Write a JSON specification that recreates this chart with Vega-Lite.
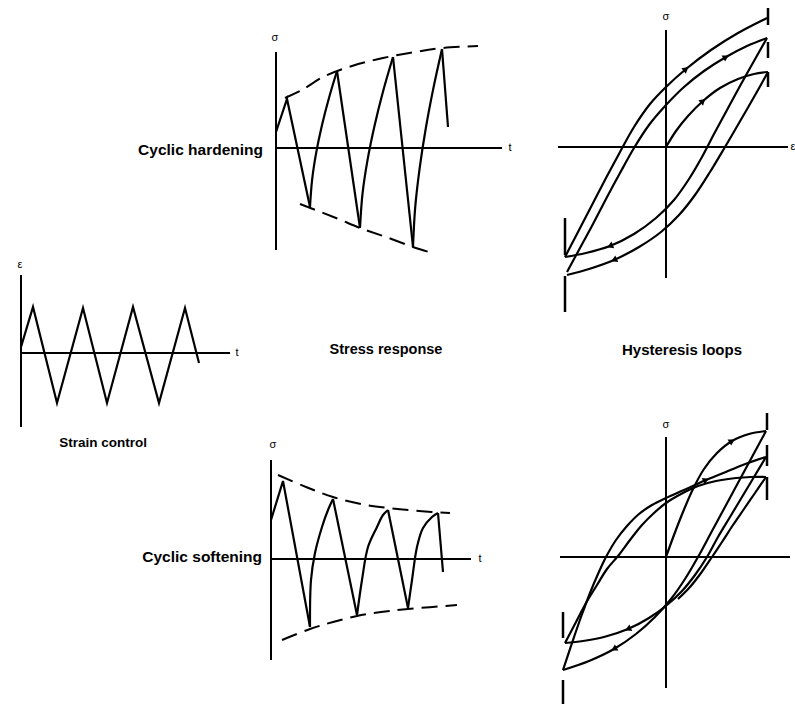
{
  "$schema": "https://vega.github.io/schema/vega-lite/v6.json",
  "padding": 0,
  "autosize": {"type": "pad"},
  "background": "white",
  "bounds": "flush",
  "columns": 3,
  "spacing": {"row": 40, "column": 5},
  "config": {
    "view": {"stroke": null},
    "text": {"font": "Liberation Sans", "fontSize": 14, "color": "black", "baseline": "middle"},
    "line": {"color": "black", "strokeWidth": 2.2},
    "rule": {"color": "black", "strokeWidth": 2},
    "point": {"color": "black", "filled": true, "opacity": 1}
  },
  "datasets": {
    "axes": [
      {"panel": "strain", "x": 0, "y": -74, "x2": 0, "y2": 78},
      {"panel": "strain", "x": 0, "y": 0, "x2": 209, "y2": 0},
      {"panel": "hardening", "x": 0, "y": -102, "x2": 0, "y2": 96},
      {"panel": "hardening", "x": 0, "y": 0, "x2": 226, "y2": 0},
      {"panel": "softening", "x": 0, "y": -101, "x2": 0, "y2": 99},
      {"panel": "softening", "x": 0, "y": 0, "x2": 200, "y2": 0},
      {"panel": "loopsHard", "x": 0, "y": -131, "x2": 0, "y2": 117},
      {"panel": "loopsHard", "x": -108, "y": 0, "x2": 122, "y2": 0},
      {"panel": "loopsSoft", "x": 0, "y": -131, "x2": 0, "y2": 120},
      {"panel": "loopsSoft", "x": -106, "y": 0, "x2": 124, "y2": 0}
    ],
    "limits": [
      {"panel": "loopsHard", "x": 102, "y": 139, "x2": 102, "y2": 122},
      {"panel": "loopsHard", "x": 102, "y": 105, "x2": 102, "y2": 89},
      {"panel": "loopsHard", "x": 102, "y": 75, "x2": 102, "y2": 60},
      {"panel": "loopsHard", "x": -101, "y": -71, "x2": -101, "y2": -108},
      {"panel": "loopsHard", "x": -101, "y": -129, "x2": -101, "y2": -165},
      {"panel": "loopsSoft", "x": 101, "y": 144, "x2": 101, "y2": 127},
      {"panel": "loopsSoft", "x": 101, "y": 112, "x2": 101, "y2": 91},
      {"panel": "loopsSoft", "x": 101, "y": 80, "x2": 101, "y2": 57},
      {"panel": "loopsSoft", "x": -103, "y": -55, "x2": -103, "y2": -81},
      {"panel": "loopsSoft", "x": -103, "y": -123, "x2": -103, "y2": -147}
    ],
    "arrows": [
      {"panel": "loopsHard", "x": 37, "y": 46, "heading": 49},
      {"panel": "loopsHard", "x": 20, "y": 78, "heading": 51},
      {"panel": "loopsHard", "x": 60, "y": 90, "heading": 60},
      {"panel": "loopsHard", "x": -56, "y": -99, "heading": 248},
      {"panel": "loopsHard", "x": -52, "y": -113, "heading": 246},
      {"panel": "loopsSoft", "x": 66, "y": 116, "heading": 59},
      {"panel": "loopsSoft", "x": 40, "y": 77, "heading": 67},
      {"panel": "loopsSoft", "x": -38, "y": -72, "heading": 247},
      {"panel": "loopsSoft", "x": -52, "y": -92, "heading": 240}
    ],
    "curves": [
      {"panel": "strain", "path": "straight", "c": 1, "i": 0, "x": 0, "y": 6},
      {"panel": "strain", "path": "straight", "c": 1, "i": 1, "x": 12, "y": 46},
      {"panel": "strain", "path": "straight", "c": 1, "i": 2, "x": 36, "y": -50},
      {"panel": "strain", "path": "straight", "c": 1, "i": 3, "x": 62, "y": 45},
      {"panel": "strain", "path": "straight", "c": 1, "i": 4, "x": 86, "y": -50},
      {"panel": "strain", "path": "straight", "c": 1, "i": 5, "x": 112, "y": 46},
      {"panel": "strain", "path": "straight", "c": 1, "i": 6, "x": 138, "y": -50},
      {"panel": "strain", "path": "straight", "c": 1, "i": 7, "x": 164, "y": 45},
      {"panel": "strain", "path": "straight", "c": 1, "i": 8, "x": 178, "y": -10},

      {"panel": "hardening", "path": "straight", "c": 1, "i": 0, "x": 0, "y": 16},
      {"panel": "hardening", "path": "straight", "c": 1, "i": 1, "x": 11, "y": 49},
      {"panel": "hardening", "path": "straight", "c": 1, "i": 2, "x": 34, "y": -59},
      {"panel": "hardening", "path": "straight", "c": 2, "i": 0, "x": 61, "y": 77},
      {"panel": "hardening", "path": "straight", "c": 2, "i": 1, "x": 84, "y": -80},
      {"panel": "hardening", "path": "straight", "c": 3, "i": 0, "x": 117, "y": 91},
      {"panel": "hardening", "path": "straight", "c": 3, "i": 1, "x": 137, "y": -99},
      {"panel": "hardening", "path": "straight", "c": 4, "i": 0, "x": 166, "y": 99},
      {"panel": "hardening", "path": "straight", "c": 4, "i": 1, "x": 172, "y": 21},
      {"panel": "hardening", "path": "smooth", "c": 5, "i": 0, "x": 34, "y": -59},
      {"panel": "hardening", "path": "smooth", "c": 5, "i": 1, "x": 36.1, "y": -31.8},
      {"panel": "hardening", "path": "smooth", "c": 5, "i": 2, "x": 40.2, "y": -4.6},
      {"panel": "hardening", "path": "smooth", "c": 5, "i": 3, "x": 45.9, "y": 22.6},
      {"panel": "hardening", "path": "smooth", "c": 5, "i": 4, "x": 52.9, "y": 49.8},
      {"panel": "hardening", "path": "smooth", "c": 5, "i": 5, "x": 61, "y": 77},
      {"panel": "hardening", "path": "smooth", "c": 6, "i": 0, "x": 84, "y": -80},
      {"panel": "hardening", "path": "smooth", "c": 6, "i": 1, "x": 86.5, "y": -45.8},
      {"panel": "hardening", "path": "smooth", "c": 6, "i": 2, "x": 91.6, "y": -11.6},
      {"panel": "hardening", "path": "smooth", "c": 6, "i": 3, "x": 98.6, "y": 22.6},
      {"panel": "hardening", "path": "smooth", "c": 6, "i": 4, "x": 107.1, "y": 56.8},
      {"panel": "hardening", "path": "smooth", "c": 6, "i": 5, "x": 117, "y": 91},
      {"panel": "hardening", "path": "smooth", "c": 7, "i": 0, "x": 137, "y": -99},
      {"panel": "hardening", "path": "smooth", "c": 7, "i": 1, "x": 139.2, "y": -59.4},
      {"panel": "hardening", "path": "smooth", "c": 7, "i": 2, "x": 143.7, "y": -19.8},
      {"panel": "hardening", "path": "smooth", "c": 7, "i": 3, "x": 149.8, "y": 19.8},
      {"panel": "hardening", "path": "smooth", "c": 7, "i": 4, "x": 157.3, "y": 59.4},
      {"panel": "hardening", "path": "smooth", "c": 7, "i": 5, "x": 166, "y": 99},

      {"panel": "softening", "path": "straight", "c": 1, "i": 0, "x": 0, "y": 39},
      {"panel": "softening", "path": "straight", "c": 1, "i": 1, "x": 12, "y": 78},
      {"panel": "softening", "path": "straight", "c": 1, "i": 2, "x": 39, "y": -68},
      {"panel": "softening", "path": "straight", "c": 2, "i": 0, "x": 62, "y": 60},
      {"panel": "softening", "path": "straight", "c": 2, "i": 1, "x": 86, "y": -56},
      {"panel": "softening", "path": "straight", "c": 3, "i": 0, "x": 117, "y": 49},
      {"panel": "softening", "path": "straight", "c": 3, "i": 1, "x": 137, "y": -49},
      {"panel": "softening", "path": "straight", "c": 4, "i": 0, "x": 167, "y": 46},
      {"panel": "softening", "path": "straight", "c": 4, "i": 1, "x": 172, "y": -13},
      {"panel": "softening", "path": "smooth", "c": 5, "i": 0, "x": 39, "y": -68},
      {"panel": "softening", "path": "smooth", "c": 5, "i": 1, "x": 40, "y": -21},
      {"panel": "softening", "path": "smooth", "c": 5, "i": 2, "x": 44, "y": 6},
      {"panel": "softening", "path": "smooth", "c": 5, "i": 3, "x": 51, "y": 32},
      {"panel": "softening", "path": "smooth", "c": 5, "i": 4, "x": 57, "y": 49},
      {"panel": "softening", "path": "smooth", "c": 5, "i": 5, "x": 62, "y": 60},
      {"panel": "softening", "path": "smooth", "c": 6, "i": 0, "x": 86, "y": -56},
      {"panel": "softening", "path": "smooth", "c": 6, "i": 1, "x": 91, "y": -21},
      {"panel": "softening", "path": "smooth", "c": 6, "i": 2, "x": 97, "y": 12},
      {"panel": "softening", "path": "smooth", "c": 6, "i": 3, "x": 106, "y": 32},
      {"panel": "softening", "path": "smooth", "c": 6, "i": 4, "x": 112, "y": 44},
      {"panel": "softening", "path": "smooth", "c": 6, "i": 5, "x": 117, "y": 49},
      {"panel": "softening", "path": "smooth", "c": 7, "i": 0, "x": 137, "y": -49},
      {"panel": "softening", "path": "smooth", "c": 7, "i": 1, "x": 141, "y": -21},
      {"panel": "softening", "path": "smooth", "c": 7, "i": 2, "x": 146, "y": 12},
      {"panel": "softening", "path": "smooth", "c": 7, "i": 3, "x": 152, "y": 31},
      {"panel": "softening", "path": "smooth", "c": 7, "i": 4, "x": 161, "y": 42},
      {"panel": "softening", "path": "smooth", "c": 7, "i": 5, "x": 167, "y": 46},

      {"panel": "loopsHard", "path": "smooth", "c": 1, "i": 0, "x": 0, "y": 0},
      {"panel": "loopsHard", "path": "smooth", "c": 1, "i": 1, "x": 10, "y": 16},
      {"panel": "loopsHard", "path": "smooth", "c": 1, "i": 2, "x": 22, "y": 31},
      {"panel": "loopsHard", "path": "smooth", "c": 1, "i": 3, "x": 37, "y": 46},
      {"panel": "loopsHard", "path": "smooth", "c": 1, "i": 4, "x": 54, "y": 59},
      {"panel": "loopsHard", "path": "smooth", "c": 1, "i": 5, "x": 72, "y": 68},
      {"panel": "loopsHard", "path": "smooth", "c": 1, "i": 6, "x": 88, "y": 73},
      {"panel": "loopsHard", "path": "smooth", "c": 1, "i": 7, "x": 102, "y": 75},
      {"panel": "loopsHard", "path": "smooth", "c": 2, "i": 0, "x": 102, "y": 75},
      {"panel": "loopsHard", "path": "smooth", "c": 2, "i": 1, "x": 88, "y": 50},
      {"panel": "loopsHard", "path": "smooth", "c": 2, "i": 2, "x": 73, "y": 24},
      {"panel": "loopsHard", "path": "smooth", "c": 2, "i": 3, "x": 59, "y": 0},
      {"panel": "loopsHard", "path": "smooth", "c": 2, "i": 4, "x": 44, "y": -25},
      {"panel": "loopsHard", "path": "smooth", "c": 2, "i": 5, "x": 29, "y": -48},
      {"panel": "loopsHard", "path": "smooth", "c": 2, "i": 6, "x": 13, "y": -68},
      {"panel": "loopsHard", "path": "smooth", "c": 2, "i": 7, "x": -5, "y": -85},
      {"panel": "loopsHard", "path": "smooth", "c": 2, "i": 8, "x": -27, "y": -100},
      {"panel": "loopsHard", "path": "smooth", "c": 2, "i": 9, "x": -52, "y": -113},
      {"panel": "loopsHard", "path": "smooth", "c": 2, "i": 10, "x": -77, "y": -122},
      {"panel": "loopsHard", "path": "smooth", "c": 2, "i": 11, "x": -99, "y": -128},
      {"panel": "loopsHard", "path": "smooth", "c": 3, "i": 0, "x": -99, "y": -125},
      {"panel": "loopsHard", "path": "smooth", "c": 3, "i": 1, "x": -86, "y": -101},
      {"panel": "loopsHard", "path": "smooth", "c": 3, "i": 2, "x": -73, "y": -77},
      {"panel": "loopsHard", "path": "smooth", "c": 3, "i": 3, "x": -60, "y": -52},
      {"panel": "loopsHard", "path": "smooth", "c": 3, "i": 4, "x": -46, "y": -26},
      {"panel": "loopsHard", "path": "smooth", "c": 3, "i": 5, "x": -32, "y": -1},
      {"panel": "loopsHard", "path": "smooth", "c": 3, "i": 6, "x": -17, "y": 22},
      {"panel": "loopsHard", "path": "smooth", "c": 3, "i": 7, "x": 0, "y": 42},
      {"panel": "loopsHard", "path": "smooth", "c": 3, "i": 8, "x": 18, "y": 60},
      {"panel": "loopsHard", "path": "smooth", "c": 3, "i": 9, "x": 38, "y": 76},
      {"panel": "loopsHard", "path": "smooth", "c": 3, "i": 10, "x": 60, "y": 90},
      {"panel": "loopsHard", "path": "smooth", "c": 3, "i": 11, "x": 81, "y": 101},
      {"panel": "loopsHard", "path": "smooth", "c": 3, "i": 12, "x": 101, "y": 109},
      {"panel": "loopsHard", "path": "smooth", "c": 4, "i": 0, "x": 101, "y": 109},
      {"panel": "loopsHard", "path": "smooth", "c": 4, "i": 1, "x": 88, "y": 86},
      {"panel": "loopsHard", "path": "smooth", "c": 4, "i": 2, "x": 74, "y": 61},
      {"panel": "loopsHard", "path": "smooth", "c": 4, "i": 3, "x": 61, "y": 37},
      {"panel": "loopsHard", "path": "smooth", "c": 4, "i": 4, "x": 48, "y": 13},
      {"panel": "loopsHard", "path": "smooth", "c": 4, "i": 5, "x": 36, "y": -10},
      {"panel": "loopsHard", "path": "smooth", "c": 4, "i": 6, "x": 23, "y": -32},
      {"panel": "loopsHard", "path": "smooth", "c": 4, "i": 7, "x": 8, "y": -53},
      {"panel": "loopsHard", "path": "smooth", "c": 4, "i": 8, "x": -10, "y": -71},
      {"panel": "loopsHard", "path": "smooth", "c": 4, "i": 9, "x": -32, "y": -87},
      {"panel": "loopsHard", "path": "smooth", "c": 4, "i": 10, "x": -56, "y": -99},
      {"panel": "loopsHard", "path": "smooth", "c": 4, "i": 11, "x": -80, "y": -106},
      {"panel": "loopsHard", "path": "smooth", "c": 4, "i": 12, "x": -101, "y": -110},
      {"panel": "loopsHard", "path": "smooth", "c": 5, "i": 0, "x": -101, "y": -110},
      {"panel": "loopsHard", "path": "smooth", "c": 5, "i": 1, "x": -88, "y": -85},
      {"panel": "loopsHard", "path": "smooth", "c": 5, "i": 2, "x": -74, "y": -58},
      {"panel": "loopsHard", "path": "smooth", "c": 5, "i": 3, "x": -60, "y": -31},
      {"panel": "loopsHard", "path": "smooth", "c": 5, "i": 4, "x": -46, "y": -5},
      {"panel": "loopsHard", "path": "smooth", "c": 5, "i": 5, "x": -32, "y": 20},
      {"panel": "loopsHard", "path": "smooth", "c": 5, "i": 6, "x": -16, "y": 43},
      {"panel": "loopsHard", "path": "smooth", "c": 5, "i": 7, "x": 0, "y": 60},
      {"panel": "loopsHard", "path": "smooth", "c": 5, "i": 8, "x": 20, "y": 78},
      {"panel": "loopsHard", "path": "smooth", "c": 5, "i": 9, "x": 45, "y": 97},
      {"panel": "loopsHard", "path": "smooth", "c": 5, "i": 10, "x": 72, "y": 114},
      {"panel": "loopsHard", "path": "smooth", "c": 5, "i": 11, "x": 101, "y": 129},

      {"panel": "loopsSoft", "path": "smooth", "c": 1, "i": 0, "x": 0, "y": 0},
      {"panel": "loopsSoft", "path": "smooth", "c": 1, "i": 1, "x": 8, "y": 22},
      {"panel": "loopsSoft", "path": "smooth", "c": 1, "i": 2, "x": 17, "y": 45},
      {"panel": "loopsSoft", "path": "smooth", "c": 1, "i": 3, "x": 27, "y": 68},
      {"panel": "loopsSoft", "path": "smooth", "c": 1, "i": 4, "x": 38, "y": 88},
      {"panel": "loopsSoft", "path": "smooth", "c": 1, "i": 5, "x": 51, "y": 104},
      {"panel": "loopsSoft", "path": "smooth", "c": 1, "i": 6, "x": 66, "y": 116},
      {"panel": "loopsSoft", "path": "smooth", "c": 1, "i": 7, "x": 83, "y": 123},
      {"panel": "loopsSoft", "path": "smooth", "c": 1, "i": 8, "x": 100, "y": 126},
      {"panel": "loopsSoft", "path": "smooth", "c": 2, "i": 0, "x": 100, "y": 126},
      {"panel": "loopsSoft", "path": "smooth", "c": 2, "i": 1, "x": 86, "y": 100},
      {"panel": "loopsSoft", "path": "smooth", "c": 2, "i": 2, "x": 73, "y": 76},
      {"panel": "loopsSoft", "path": "smooth", "c": 2, "i": 3, "x": 59, "y": 50},
      {"panel": "loopsSoft", "path": "smooth", "c": 2, "i": 4, "x": 46, "y": 26},
      {"panel": "loopsSoft", "path": "smooth", "c": 2, "i": 5, "x": 32, "y": 0},
      {"panel": "loopsSoft", "path": "smooth", "c": 2, "i": 6, "x": 19, "y": -22},
      {"panel": "loopsSoft", "path": "smooth", "c": 2, "i": 7, "x": 5, "y": -42},
      {"panel": "loopsSoft", "path": "smooth", "c": 2, "i": 8, "x": -11, "y": -60},
      {"panel": "loopsSoft", "path": "smooth", "c": 2, "i": 9, "x": -30, "y": -77},
      {"panel": "loopsSoft", "path": "smooth", "c": 2, "i": 10, "x": -52, "y": -92},
      {"panel": "loopsSoft", "path": "smooth", "c": 2, "i": 11, "x": -77, "y": -104},
      {"panel": "loopsSoft", "path": "smooth", "c": 2, "i": 12, "x": -103, "y": -113},
      {"panel": "loopsSoft", "path": "smooth", "c": 3, "i": 0, "x": -103, "y": -113},
      {"panel": "loopsSoft", "path": "smooth", "c": 3, "i": 1, "x": -94, "y": -86},
      {"panel": "loopsSoft", "path": "smooth", "c": 3, "i": 2, "x": -85, "y": -60},
      {"panel": "loopsSoft", "path": "smooth", "c": 3, "i": 3, "x": -76, "y": -36},
      {"panel": "loopsSoft", "path": "smooth", "c": 3, "i": 4, "x": -68, "y": -17},
      {"panel": "loopsSoft", "path": "smooth", "c": 3, "i": 5, "x": -60, "y": 0},
      {"panel": "loopsSoft", "path": "smooth", "c": 3, "i": 6, "x": -50, "y": 17},
      {"panel": "loopsSoft", "path": "smooth", "c": 3, "i": 7, "x": -39, "y": 31},
      {"panel": "loopsSoft", "path": "smooth", "c": 3, "i": 8, "x": -27, "y": 43},
      {"panel": "loopsSoft", "path": "smooth", "c": 3, "i": 9, "x": -14, "y": 52},
      {"panel": "loopsSoft", "path": "smooth", "c": 3, "i": 10, "x": 0, "y": 59},
      {"panel": "loopsSoft", "path": "smooth", "c": 3, "i": 11, "x": 18, "y": 67},
      {"panel": "loopsSoft", "path": "smooth", "c": 3, "i": 12, "x": 40, "y": 77},
      {"panel": "loopsSoft", "path": "smooth", "c": 3, "i": 13, "x": 62, "y": 86},
      {"panel": "loopsSoft", "path": "smooth", "c": 3, "i": 14, "x": 82, "y": 94},
      {"panel": "loopsSoft", "path": "smooth", "c": 3, "i": 15, "x": 100, "y": 100},
      {"panel": "loopsSoft", "path": "smooth", "c": 4, "i": 0, "x": 100, "y": 100},
      {"panel": "loopsSoft", "path": "smooth", "c": 4, "i": 1, "x": 88, "y": 80},
      {"panel": "loopsSoft", "path": "smooth", "c": 4, "i": 2, "x": 76, "y": 60},
      {"panel": "loopsSoft", "path": "smooth", "c": 4, "i": 3, "x": 64, "y": 40},
      {"panel": "loopsSoft", "path": "smooth", "c": 4, "i": 4, "x": 52, "y": 20},
      {"panel": "loopsSoft", "path": "smooth", "c": 4, "i": 5, "x": 41, "y": 0},
      {"panel": "loopsSoft", "path": "smooth", "c": 4, "i": 6, "x": 29, "y": -18},
      {"panel": "loopsSoft", "path": "smooth", "c": 4, "i": 7, "x": 16, "y": -34},
      {"panel": "loopsSoft", "path": "smooth", "c": 4, "i": 8, "x": 1, "y": -48},
      {"panel": "loopsSoft", "path": "smooth", "c": 4, "i": 9, "x": -17, "y": -61},
      {"panel": "loopsSoft", "path": "smooth", "c": 4, "i": 10, "x": -38, "y": -72},
      {"panel": "loopsSoft", "path": "smooth", "c": 4, "i": 11, "x": -62, "y": -80},
      {"panel": "loopsSoft", "path": "smooth", "c": 4, "i": 12, "x": -83, "y": -84},
      {"panel": "loopsSoft", "path": "smooth", "c": 4, "i": 13, "x": -101, "y": -86},
      {"panel": "loopsSoft", "path": "smooth", "c": 5, "i": 0, "x": -101, "y": -86},
      {"panel": "loopsSoft", "path": "smooth", "c": 5, "i": 1, "x": -90, "y": -65},
      {"panel": "loopsSoft", "path": "smooth", "c": 5, "i": 2, "x": -80, "y": -46},
      {"panel": "loopsSoft", "path": "smooth", "c": 5, "i": 3, "x": -69, "y": -28},
      {"panel": "loopsSoft", "path": "smooth", "c": 5, "i": 4, "x": -59, "y": -12},
      {"panel": "loopsSoft", "path": "smooth", "c": 5, "i": 5, "x": -48, "y": 1},
      {"panel": "loopsSoft", "path": "smooth", "c": 5, "i": 6, "x": -36, "y": 17},
      {"panel": "loopsSoft", "path": "smooth", "c": 5, "i": 7, "x": -24, "y": 32},
      {"panel": "loopsSoft", "path": "smooth", "c": 5, "i": 8, "x": -12, "y": 44},
      {"panel": "loopsSoft", "path": "smooth", "c": 5, "i": 9, "x": 0, "y": 54},
      {"panel": "loopsSoft", "path": "smooth", "c": 5, "i": 10, "x": 15, "y": 63},
      {"panel": "loopsSoft", "path": "smooth", "c": 5, "i": 11, "x": 32, "y": 71},
      {"panel": "loopsSoft", "path": "smooth", "c": 5, "i": 12, "x": 50, "y": 76},
      {"panel": "loopsSoft", "path": "smooth", "c": 5, "i": 13, "x": 70, "y": 79},
      {"panel": "loopsSoft", "path": "smooth", "c": 5, "i": 14, "x": 85, "y": 80},
      {"panel": "loopsSoft", "path": "smooth", "c": 5, "i": 15, "x": 100, "y": 80},
      {"panel": "loopsSoft", "path": "smooth", "c": 6, "i": 0, "x": 100, "y": 80},
      {"panel": "loopsSoft", "path": "smooth", "c": 6, "i": 1, "x": 89, "y": 64},
      {"panel": "loopsSoft", "path": "smooth", "c": 6, "i": 2, "x": 78, "y": 48},
      {"panel": "loopsSoft", "path": "smooth", "c": 6, "i": 3, "x": 67, "y": 32},
      {"panel": "loopsSoft", "path": "smooth", "c": 6, "i": 4, "x": 56, "y": 15},
      {"panel": "loopsSoft", "path": "smooth", "c": 6, "i": 5, "x": 46, "y": 0},
      {"panel": "loopsSoft", "path": "smooth", "c": 6, "i": 6, "x": 35, "y": -16},
      {"panel": "loopsSoft", "path": "smooth", "c": 6, "i": 7, "x": 24, "y": -30},
      {"panel": "loopsSoft", "path": "smooth", "c": 6, "i": 8, "x": 12, "y": -42}
    ],
    "envelopes": [
      {"panel": "hardening", "c": 1, "i": 0, "x": 9, "y": 50},
      {"panel": "hardening", "c": 1, "i": 1, "x": 26, "y": 58},
      {"panel": "hardening", "c": 1, "i": 2, "x": 47, "y": 71},
      {"panel": "hardening", "c": 1, "i": 3, "x": 76, "y": 82},
      {"panel": "hardening", "c": 1, "i": 4, "x": 107, "y": 90},
      {"panel": "hardening", "c": 1, "i": 5, "x": 139, "y": 96},
      {"panel": "hardening", "c": 1, "i": 6, "x": 167, "y": 100},
      {"panel": "hardening", "c": 1, "i": 7, "x": 202, "y": 102},
      {"panel": "hardening", "c": 2, "i": 0, "x": 24, "y": -56},
      {"panel": "hardening", "c": 2, "i": 1, "x": 60, "y": -70},
      {"panel": "hardening", "c": 2, "i": 2, "x": 84, "y": -80},
      {"panel": "hardening", "c": 2, "i": 3, "x": 110, "y": -89},
      {"panel": "hardening", "c": 2, "i": 4, "x": 137, "y": -99},
      {"panel": "hardening", "c": 2, "i": 5, "x": 156, "y": -105},
      {"panel": "softening", "c": 1, "i": 0, "x": 7, "y": 84},
      {"panel": "softening", "c": 1, "i": 1, "x": 35, "y": 72},
      {"panel": "softening", "c": 1, "i": 2, "x": 62, "y": 62},
      {"panel": "softening", "c": 1, "i": 3, "x": 90, "y": 55},
      {"panel": "softening", "c": 1, "i": 4, "x": 117, "y": 51},
      {"panel": "softening", "c": 1, "i": 5, "x": 148, "y": 48},
      {"panel": "softening", "c": 1, "i": 6, "x": 179, "y": 46},
      {"panel": "softening", "c": 2, "i": 0, "x": 11, "y": -81},
      {"panel": "softening", "c": 2, "i": 1, "x": 39, "y": -70},
      {"panel": "softening", "c": 2, "i": 2, "x": 62, "y": -63},
      {"panel": "softening", "c": 2, "i": 3, "x": 86, "y": -57},
      {"panel": "softening", "c": 2, "i": 4, "x": 110, "y": -53},
      {"panel": "softening", "c": 2, "i": 5, "x": 137, "y": -50},
      {"panel": "softening", "c": 2, "i": 6, "x": 186, "y": -46}
    ],
    "labels": [
      {"panel": "strain", "kind": "symbol", "label": "ε", "x": -1, "y": 88},
      {"panel": "strain", "kind": "symbol", "label": "t", "x": 216, "y": 0},
      {"panel": "strain", "kind": "caption", "label": "Strain control", "x": 82, "y": -90},
      {"panel": "hardening", "kind": "symbol", "label": "σ", "x": -1, "y": 110},
      {"panel": "hardening", "kind": "symbol", "label": "t", "x": 234, "y": 0},
      {"panel": "hardening", "kind": "side", "label": "Cyclic hardening", "x": -13, "y": -2},
      {"panel": "hardening", "kind": "caption", "label": "Stress response", "x": 110, "y": -202},
      {"panel": "softening", "kind": "symbol", "label": "σ", "x": 2, "y": 114},
      {"panel": "softening", "kind": "symbol", "label": "t", "x": 209, "y": 0},
      {"panel": "softening", "kind": "side", "label": "Cyclic softening", "x": -9, "y": 2},
      {"panel": "loopsHard", "kind": "symbol", "label": "σ", "x": 0, "y": 130},
      {"panel": "loopsHard", "kind": "symbol", "label": "ε", "x": 127, "y": 0},
      {"panel": "loopsHard", "kind": "caption", "label": "Hysteresis loops", "x": 16, "y": -203},
      {"panel": "loopsSoft", "kind": "symbol", "label": "σ", "x": 0, "y": 132}
    ]
  },
  "concat": [
    {
      "width": 240,
      "height": 360,
      "encoding": {
        "x": {"field": "x", "type": "quantitative", "scale": {"domain": [-21, 219], "nice": false, "zero": false}, "axis": null},
        "y": {"field": "y", "type": "quantitative", "scale": {"domain": [-7, 353], "nice": false, "zero": false}, "axis": null}
      },
      "layer": [
        {"data": {"name": "axes"}, "transform": [{"filter": "datum.panel === 'strain'"}], "mark": {"type": "rule"}, "encoding": {"x2": {"field": "x2"}, "y2": {"field": "y2"}}},
        {"data": {"name": "curves"}, "transform": [{"filter": "datum.panel === 'strain'"}], "mark": {"type": "line"}, "encoding": {"detail": {"field": "c"}, "order": {"field": "i"}}},
        {"data": {"name": "labels"}, "transform": [{"filter": "datum.panel === 'strain' && datum.kind === 'symbol'"}], "mark": {"type": "text", "fontSize": 11}, "encoding": {"text": {"field": "label"}}}
      ]
    },
    {
      "width": 290,
      "height": 360,
      "encoding": {
        "x": {"field": "x", "type": "quantitative", "scale": {"domain": [-31, 259], "nice": false, "zero": false}, "axis": null},
        "y": {"field": "y", "type": "quantitative", "scale": {"domain": [-212, 148], "nice": false, "zero": false}, "axis": null}
      },
      "layer": [
        {"data": {"name": "axes"}, "transform": [{"filter": "datum.panel === 'hardening'"}], "mark": {"type": "rule"}, "encoding": {"x2": {"field": "x2"}, "y2": {"field": "y2"}}},
        {"data": {"name": "envelopes"}, "transform": [{"filter": "datum.panel === 'hardening'"}], "mark": {"type": "line", "interpolate": "catmull-rom", "strokeDash": [16, 8], "strokeWidth": 2}, "encoding": {"detail": {"field": "c"}, "order": {"field": "i"}}},
        {"data": {"name": "curves"}, "transform": [{"filter": "datum.panel === 'hardening' && datum.path === 'straight'"}], "mark": {"type": "line"}, "encoding": {"detail": {"field": "c"}, "order": {"field": "i"}}},
        {"data": {"name": "curves"}, "transform": [{"filter": "datum.panel === 'hardening' && datum.path === 'smooth'"}], "mark": {"type": "line", "interpolate": "catmull-rom"}, "encoding": {"detail": {"field": "c"}, "order": {"field": "i"}}},
        {"data": {"name": "labels"}, "transform": [{"filter": "datum.panel === 'hardening' && datum.kind === 'symbol'"}], "mark": {"type": "text", "fontSize": 11}, "encoding": {"text": {"field": "label"}}},
        {"data": {"name": "labels"}, "transform": [{"filter": "datum.panel === 'hardening' && datum.kind === 'side'"}], "mark": {"type": "text", "align": "right", "fontSize": 15.5, "fontWeight": "bold"}, "encoding": {"text": {"field": "label"}}},
        {"data": {"name": "labels"}, "transform": [{"filter": "datum.panel === 'hardening' && datum.kind === 'caption'"}], "mark": {"type": "text", "fontSize": 14.5, "fontWeight": "bold"}, "encoding": {"text": {"field": "label"}}}
      ]
    },
    {
      "width": 255,
      "height": 360,
      "encoding": {
        "x": {"field": "x", "type": "quantitative", "scale": {"domain": [-126, 129], "nice": false, "zero": false}, "axis": null},
        "y": {"field": "y", "type": "quantitative", "scale": {"domain": [-213, 147], "nice": false, "zero": false}, "axis": null}
      },
      "layer": [
        {"data": {"name": "axes"}, "transform": [{"filter": "datum.panel === 'loopsHard'"}], "mark": {"type": "rule"}, "encoding": {"x2": {"field": "x2"}, "y2": {"field": "y2"}}},
        {"data": {"name": "limits"}, "transform": [{"filter": "datum.panel === 'loopsHard'"}], "mark": {"type": "rule", "strokeWidth": 2.5}, "encoding": {"x2": {"field": "x2"}, "y2": {"field": "y2"}}},
        {"data": {"name": "curves"}, "transform": [{"filter": "datum.panel === 'loopsHard'"}], "mark": {"type": "line", "interpolate": "catmull-rom"}, "encoding": {"detail": {"field": "c"}, "order": {"field": "i"}}},
        {"data": {"name": "arrows"}, "transform": [{"filter": "datum.panel === 'loopsHard'"}], "mark": {"type": "point", "shape": "triangle-up", "size": 50}, "encoding": {"angle": {"field": "heading", "type": "quantitative", "scale": null}}},
        {"data": {"name": "labels"}, "transform": [{"filter": "datum.panel === 'loopsHard' && datum.kind === 'symbol'"}], "mark": {"type": "text", "fontSize": 11}, "encoding": {"text": {"field": "label"}}},
        {"data": {"name": "labels"}, "transform": [{"filter": "datum.panel === 'loopsHard' && datum.kind === 'caption'"}], "mark": {"type": "text", "fontSize": 15, "fontWeight": "bold"}, "encoding": {"text": {"field": "label"}}}
      ]
    },
    {
      "width": 240,
      "height": 304,
      "data": {"name": "labels"},
      "transform": [{"filter": "datum.panel === 'strain' && datum.kind === 'caption'"}],
      "mark": {"type": "text", "fontSize": 13.5, "fontWeight": "bold"},
      "encoding": {
        "x": {"field": "x", "type": "quantitative", "scale": {"domain": [-21, 219], "nice": false, "zero": false}, "axis": null},
        "y": {"field": "y", "type": "quantitative", "scale": {"domain": [-351, -47], "nice": false, "zero": false}, "axis": null},
        "text": {"field": "label"}
      }
    },
    {
      "width": 290,
      "height": 304,
      "encoding": {
        "x": {"field": "x", "type": "quantitative", "scale": {"domain": [-26, 264], "nice": false, "zero": false}, "axis": null},
        "y": {"field": "y", "type": "quantitative", "scale": {"domain": [-145, 159], "nice": false, "zero": false}, "axis": null}
      },
      "layer": [
        {"data": {"name": "axes"}, "transform": [{"filter": "datum.panel === 'softening'"}], "mark": {"type": "rule"}, "encoding": {"x2": {"field": "x2"}, "y2": {"field": "y2"}}},
        {"data": {"name": "envelopes"}, "transform": [{"filter": "datum.panel === 'softening'"}], "mark": {"type": "line", "interpolate": "catmull-rom", "strokeDash": [16, 8], "strokeWidth": 2}, "encoding": {"detail": {"field": "c"}, "order": {"field": "i"}}},
        {"data": {"name": "curves"}, "transform": [{"filter": "datum.panel === 'softening' && datum.path === 'straight'"}], "mark": {"type": "line"}, "encoding": {"detail": {"field": "c"}, "order": {"field": "i"}}},
        {"data": {"name": "curves"}, "transform": [{"filter": "datum.panel === 'softening' && datum.path === 'smooth'"}], "mark": {"type": "line", "interpolate": "catmull-rom"}, "encoding": {"detail": {"field": "c"}, "order": {"field": "i"}}},
        {"data": {"name": "labels"}, "transform": [{"filter": "datum.panel === 'softening' && datum.kind === 'symbol'"}], "mark": {"type": "text", "fontSize": 11}, "encoding": {"text": {"field": "label"}}},
        {"data": {"name": "labels"}, "transform": [{"filter": "datum.panel === 'softening' && datum.kind === 'side'"}], "mark": {"type": "text", "align": "right", "fontSize": 15.5, "fontWeight": "bold"}, "encoding": {"text": {"field": "label"}}}
      ]
    },
    {
      "width": 255,
      "height": 304,
      "encoding": {
        "x": {"field": "x", "type": "quantitative", "scale": {"domain": [-126, 129], "nice": false, "zero": false}, "axis": null},
        "y": {"field": "y", "type": "quantitative", "scale": {"domain": [-147, 157], "nice": false, "zero": false}, "axis": null}
      },
      "layer": [
        {"data": {"name": "axes"}, "transform": [{"filter": "datum.panel === 'loopsSoft'"}], "mark": {"type": "rule"}, "encoding": {"x2": {"field": "x2"}, "y2": {"field": "y2"}}},
        {"data": {"name": "limits"}, "transform": [{"filter": "datum.panel === 'loopsSoft'"}], "mark": {"type": "rule", "strokeWidth": 2.5}, "encoding": {"x2": {"field": "x2"}, "y2": {"field": "y2"}}},
        {"data": {"name": "curves"}, "transform": [{"filter": "datum.panel === 'loopsSoft'"}], "mark": {"type": "line", "interpolate": "catmull-rom"}, "encoding": {"detail": {"field": "c"}, "order": {"field": "i"}}},
        {"data": {"name": "arrows"}, "transform": [{"filter": "datum.panel === 'loopsSoft'"}], "mark": {"type": "point", "shape": "triangle-up", "size": 50}, "encoding": {"angle": {"field": "heading", "type": "quantitative", "scale": null}}},
        {"data": {"name": "labels"}, "transform": [{"filter": "datum.panel === 'loopsSoft' && datum.kind === 'symbol'"}], "mark": {"type": "text", "fontSize": 11}, "encoding": {"text": {"field": "label"}}}
      ]
    }
  ]
}
